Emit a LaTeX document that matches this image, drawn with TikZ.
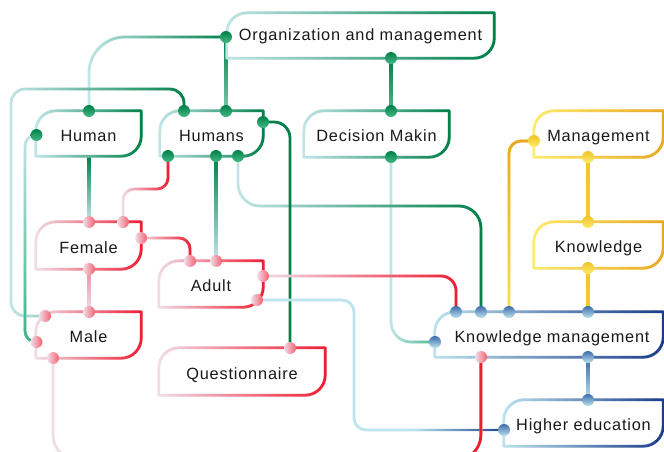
\documentclass[tikz,border=0pt]{standalone}
\usepackage{fontspec}
\setmainfont{Liberation Sans}[LetterSpace=5]
\usetikzlibrary{fadings,calc}
\definecolor{gD}{RGB}{0,128,72}
\definecolor{gM}{RGB}{70,185,135}
\definecolor{gL}{RGB}{194,230,232}
\definecolor{gT}{RGB}{60,180,130}
\definecolor{rD}{RGB}{240,28,48}
\definecolor{rM}{RGB}{240,140,160}
\definecolor{rL}{RGB}{240,222,234}
\definecolor{bD}{RGB}{28,58,138}
\definecolor{bM}{RGB}{70,120,180}
\definecolor{bL}{RGB}{188,228,238}
\definecolor{yD}{RGB}{232,168,40}
\definecolor{yM}{RGB}{244,206,40}
\definecolor{yL}{RGB}{255,236,110}
\definecolor{txt}{RGB}{25,25,25}
\tikzfading[name=toR, left color=transparent!100, right color=transparent!0]
\tikzfading[name=toT, top color=transparent!0, bottom color=transparent!100]
\tikzfading[name=toB, top color=transparent!100, bottom color=transparent!0]
% #1 options, #2 light, #3 dark, #4 fading, #5 padding moves, #6 path
\newcommand\gdraw[6]{%
  \draw[wire,#1,#2] #6;
  \draw[wire,#1,#3,path fading=#4] #5 #6;}
% vertical connector: #1 bottom colour, #2 top colour, #3 upper port, #4 lower port
\newcommand\vdraw[4]{%
  \shade[top color=#2,bottom color=#1] ($(#3)+(-1.4,0)$) rectangle ($(#4)+(1.4,0)$);}
\newcommand\bxp[3]{\path[#2] #3 (#1.south west) -- ($(#1.north west)+(0,20)$) .. controls ($(#1.north west)+(0,9)$) and ($(#1.north west)+(9,0)$) .. ($(#1.north west)+(20,0)$) -- (#1.north east) -- ($(#1.south east)+(0,-20)$) .. controls ($(#1.south east)+(0,-9)$) and ($(#1.south east)+(-9,0)$) .. ($(#1.south east)+(-20,0)$) -- cycle;}
\newcommand\bxdraw[3]{\bxp{#1}{draw=#2,wire}{}\bxp{#1}{draw=#3,wire,path fading=toR}{(#1.north west) ++(0,-3) (#1.south east) ++(0,3)}}
\newcommand\dG[1]{\shade[top color=gD,bottom color=gM] (#1) circle[radius=6];}
\newcommand\dR[1]{\shade[left color=rL,right color=rD!70!white] (#1) circle[radius=6];}
\newcommand\dB[1]{\shade[top color=bM!80!bD,bottom color=bL] (#1) circle[radius=6];}
\newcommand\dY[1]{\shade[top color=yM!70!yD,bottom color=yL] (#1) circle[radius=6];}
\begin{document}
\begin{tikzpicture}[x=1pt,y=-1pt,
  wire/.style={line width=2.8pt,line join=round},
  box/.style={inner sep=0pt,text height=15pt,text depth=0pt,text=txt,font=\fontsize{16.3}{19}\selectfont}]
\fill[white] (0,0) rectangle (664,451);
\useasboundingbox (0,0) rectangle (664,451);
\clip (0,0) rectangle (664,451);
% boxes (text)
\node[box,minimum width=267pt,minimum height=45pt,text height=10pt] (org) at (360.5,35.5) {Organization and management};
\node[box,minimum width=105pt,minimum height=45pt] (human) at (88.5,133.5) {Human};
\node[box,minimum width=103pt,minimum height=45pt] (humans) at (211.5,133.5) {Humans};
\node[box,minimum width=145pt,minimum height=46pt] (dm) at (376.5,134) {Decision Makin};
\node[box,minimum width=129pt,minimum height=46pt] (mg) at (598.5,134) {Management};
\node[box,minimum width=129pt,minimum height=46pt] (kn) at (598.5,245) {Knowledge};
\node[box,minimum width=228pt,minimum height=45pt] (km) at (549,334.5) {\hspace{6pt}Knowledge management};
\node[box,minimum width=159pt,minimum height=46pt] (he) at (583.5,423) {Higher education};
\node[box,minimum width=105pt,minimum height=47pt] (fe) at (88.5,245.5) {Female};
\node[box,minimum width=105pt,minimum height=46pt] (ma) at (88.5,335) {Male};
\node[box,minimum width=104pt,minimum height=46pt] (ad) at (211,284) {Adult};
\node[box,minimum width=166pt,minimum height=47pt] (q) at (242,371.5) {Questionnaire\hspace{7pt}};
% ports
\coordinate (org-l) at (226,37);
\coordinate (org-b) at (391,58);
\coordinate (human-t) at (89,111);
\coordinate (human-l) at (36.5,135);
\coordinate (human-b) at (89,156);
\coordinate (humans-t1) at (184,111);
\coordinate (humans-t2) at (226,111);
\coordinate (humans-r) at (263,122);
\coordinate (humans-b1) at (168,156);
\coordinate (humans-b2) at (216,156);
\coordinate (humans-b3) at (238,156);
\coordinate (dm-t) at (391,111);
\coordinate (dm-b) at (391,157);
\coordinate (mg-l) at (534,141);
\coordinate (mg-b) at (588,157);
\coordinate (kn-t) at (588,222);
\coordinate (kn-b) at (588,268);
\coordinate (km-t1) at (456,312);
\coordinate (km-t2) at (481,312);
\coordinate (km-t3) at (509,312);
\coordinate (km-t4) at (588,312);
\coordinate (km-l) at (435,342);
\coordinate (km-b1) at (481,357);
\coordinate (km-b2) at (588,357);
\coordinate (he-t) at (588,400);
\coordinate (he-l) at (504,430);
\coordinate (fe-t1) at (89,222);
\coordinate (fe-t2) at (123,222);
\coordinate (fe-r) at (141,238);
\coordinate (fe-b) at (89,269);
\coordinate (ma-t) at (89,312);
\coordinate (ma-tl) at (45,316);
\coordinate (ma-l) at (36.5,342);
\coordinate (ma-b) at (53,358);
\coordinate (ad-t1) at (190,261);
\coordinate (ad-t2) at (216,261);
\coordinate (ad-r) at (263,276);
\coordinate (ad-br) at (257,300);
\coordinate (q-t) at (290,348);
% connectors
\gdraw{rounded corners=36}{gL}{gD}{toR}{(org-l) ++(0,-3) (human-t) ++(0,3)}{(org-l) -| (human-t)}
\vdraw{gM!60!gL}{gD}{org-l}{humans-t2}
\vdraw{gM}{gD}{org-b}{dm-t}
\gdraw{rounded corners=20}{gL}{gM}{toR}{(dm-b) ++(0,-3) (km-l) ++(0,3)}{(dm-b) |- (km-l)}
\gdraw{rounded corners=14}{gL}{gD}{toR}{(11,86) (ma-tl) ++(0,3)}{(humans-t1) |- (11,89) |- (ma-tl)}
\gdraw{rounded corners=11}{gL}{gT}{toB}{(human-l) ++(3,0) (22,135)}{(human-l) -- (25,135) |- (ma-l)}
\gdraw{rounded corners=11}{rL}{rD}{toR}{(humans-b1) ++(0,-3) (fe-t2) ++(0,3)}{(humans-b1) -- (168,189) -| (fe-t2)}
\vdraw{gL}{gD}{humans-b2}{ad-t2}
\gdraw{rounded corners=22}{gL}{gD}{toR}{(humans-b3) ++(0,-3) (km-t2) ++(0,3)}{(humans-b3) -- (238,206) -| (km-t2)}
\draw[wire,gD,rounded corners=16] (humans-r) -| (q-t);
\vdraw{gL}{gD}{human-b}{fe-t1}
\gdraw{rounded corners=11}{rL}{rD}{toR}{(fe-r) ++(0,-3) (ad-t1) ++(0,3)}{(fe-r) -| (ad-t1)}
\vdraw{rL}{rM}{fe-b}{ma-t}
\gdraw{rounded corners=15}{rL}{rD}{toR}{(ad-r) ++(0,-3) (km-t1) ++(0,3)}{(ad-r) -| (km-t1)}
\draw[wire,bL,rounded corners=12] (ad-br) -- (354,300) |- (he-l);
\draw[wire,bD,path fading=toR] (he-l) ++(0,-3) (he-l) ++(0,3) ($(he-l)+(-90,0)$) -- (he-l);
\gdraw{rounded corners=12}{yL!60!yM}{yD}{toT}{(mg-l) ++(3,0) (km-t3) ++(-3,0)}{(mg-l) -| (km-t3)}
\vdraw{yM}{yM!80!yD}{mg-b}{kn-t}
\vdraw{yM}{yM!80!yD}{kn-b}{km-t4}
\gdraw{rounded corners=25}{rL}{rD}{toR}{(km-b1) ++(0,-3)}{(km-b1) -- (481,460) -| (ma-b)}
\vdraw{bL}{bM!70!bD}{km-b2}{he-t}
% box borders
\bxdraw{org}{gL}{gD}
\bxdraw{human}{gL}{gD}
\bxdraw{humans}{gL}{gD}
\bxdraw{dm}{gL}{gD}
\bxdraw{mg}{yL}{yD}
\bxdraw{kn}{yL}{yD}
\bxdraw{km}{bL}{bD}
\bxdraw{he}{bL}{bD}
\bxdraw{fe}{rL}{rD}
\bxdraw{ma}{rL}{rD}
\bxdraw{ad}{rL}{rD}
\bxdraw{q}{rL}{rD}
% dots
\foreach \p in {org-l,org-b,human-t,human-l,humans-t1,humans-t2,humans-r,humans-b1,humans-b2,humans-b3,dm-t,dm-b} {\dG{\p}}
\foreach \p in {km-t1,km-t2,km-t3,km-t4,km-l,km-b2,he-t,he-l} {\dB{\p}}
\foreach \p in {mg-l,mg-b,kn-t,kn-b} {\dY{\p}}
\foreach \p in {km-b1,fe-t1,fe-t2,fe-r,fe-b,ma-t,ma-tl,ma-l,ma-b,ad-t1,ad-t2,ad-r,ad-br,q-t} {\dR{\p}}
\end{tikzpicture}
\end{document}
